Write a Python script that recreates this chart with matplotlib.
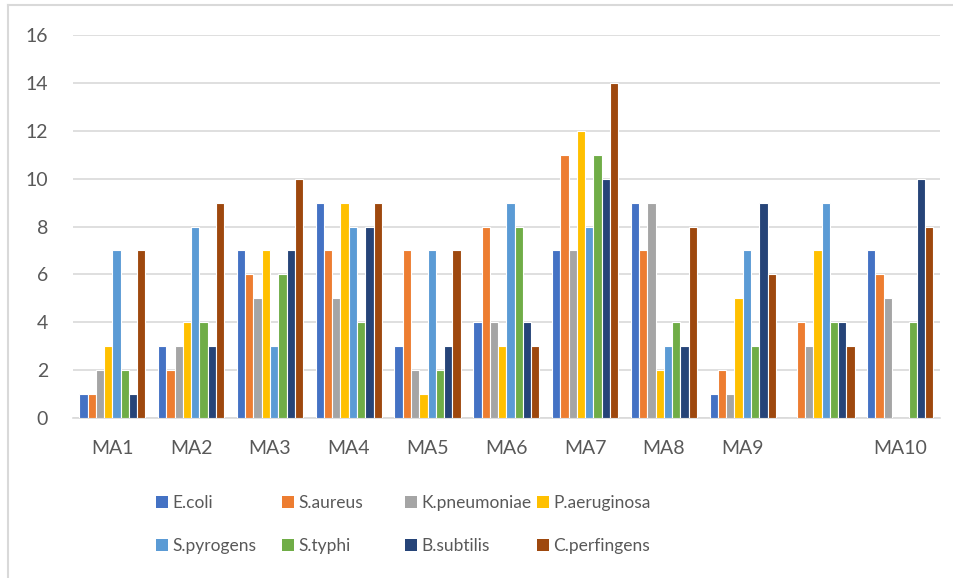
import numpy as np
import matplotlib.pyplot as plt

plt.rcParams['font.family'] = ['Lato', 'DejaVu Sans']

# 資料
groups = ['MA1', 'MA2', 'MA3', 'MA4', 'MA5', 'MA6', 'MA7', 'MA8', 'MA9', '', 'MA10']
species = ['E.coli', 'S.aureus', 'K.pneumoniae', 'P.aeruginosa',
           'S.pyrogens', 'S.typhi', 'B.subtilis', 'C.perfingens']
colors = ['#4472C4', '#ED7D31', '#A5A5A5', '#FFC000',
          '#5B9BD5', '#70AD47', '#264478', '#9E480E']

ecoli = [1, 3, 7, 9, 3, 4, 7, 9, 1, 0, 7]
saureus = [1, 2, 6, 7, 7, 8, 11, 7, 2, 4, 6]
kpneumoniae = [2, 3, 5, 5, 2, 4, 7, 9, 1, 3, 5]
paeruginosa = [3, 4, 7, 9, 1, 3, 12, 2, 5, 7, 0]
spyrogens = [7, 8, 3, 8, 7, 9, 8, 3, 7, 9, 0]
styphi = [2, 4, 6, 4, 2, 8, 11, 4, 3, 4, 4]
bsubtilis = [1, 3, 7, 8, 3, 4, 10, 3, 9, 4, 10]
cperfingens = [7, 9, 10, 9, 7, 3, 14, 8, 6, 3, 8]
series = [ecoli, saureus, kpneumoniae, paeruginosa,
          spyrogens, styphi, bsubtilis, cperfingens]

fig = plt.figure(figsize=(9.54, 5.78), dpi=100)
ax = fig.add_axes([0.0765, 0.2768, 0.9085, 0.6626])

x = np.arange(len(groups))
w = 0.105
handles = []
for i, (vals, c, name) in enumerate(zip(series, colors, species)):
    b = ax.bar(x + (i - 3.5) * w, vals, w, color=c, edgecolor='white',
               linewidth=0.8, label=name, zorder=3)
    handles.append(b)

ax.set_xlim(-0.5, len(groups) - 0.5)
ax.set_ylim(0, 16)
ax.set_yticks(range(0, 17, 2))
ax.set_xticks(x)
ax.set_xticklabels(groups)
ax.tick_params(axis='both', length=0, labelsize=14, colors='#595959')
ax.tick_params(axis='x', pad=16)
ax.tick_params(axis='y', pad=18)
ax.grid(axis='y', color='#D9D9D9', linewidth=1.2, zorder=0)
for s in ['top', 'right', 'left']:
    ax.spines[s].set_visible(False)
ax.spines['bottom'].set_color('#D9D9D9')
ax.spines['bottom'].set_linewidth(1.2)

# 圖例 (四欄等寬)
col_x = [156, 282, 405, 537]
for j in range(4):
    leg = fig.legend([handles[j], handles[j + 4]], [species[j], species[j + 4]],
                     loc='upper left', bbox_to_anchor=(col_x[j] / 954, 1 - 495 / 578),
                     frameon=False, fontsize=12.5, handlelength=0.7, handleheight=0.7,
                     handletextpad=0.25, labelspacing=1.55, borderaxespad=0, borderpad=0)
    for t in leg.get_texts():
        t.set_color('#595959')
    for h in leg.legend_handles:
        h.set_edgecolor('none')

# 外框
fig.add_artist(plt.Line2D([8 / 954, 8 / 954], [0, 1 - 5 / 578], color='#D9D9D9',
                          linewidth=1.5, transform=fig.transFigure))
fig.add_artist(plt.Line2D([8 / 954, 1], [1 - 5 / 578, 1 - 5 / 578], color='#D9D9D9',
                          linewidth=1.5, transform=fig.transFigure))

fig.savefig('out.png', dpi=100)
